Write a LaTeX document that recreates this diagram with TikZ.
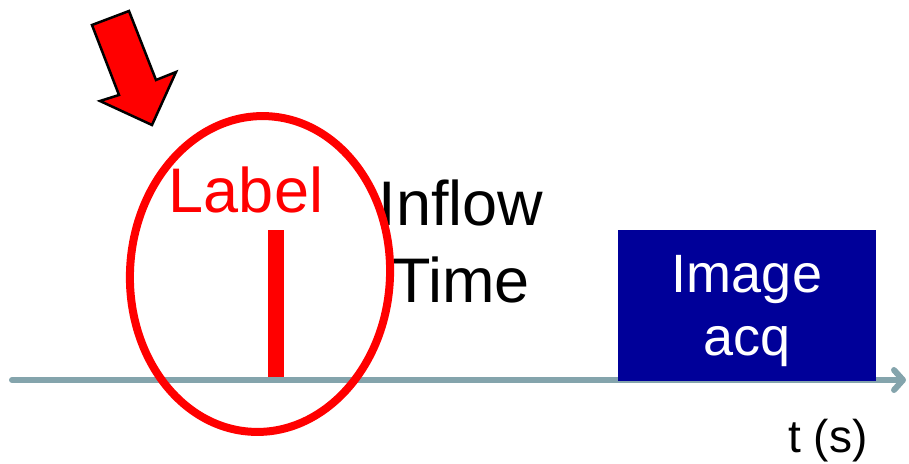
\documentclass[tikz,border=0pt]{standalone}
\usepackage{fontspec}
\setmainfont{Liberation Sans}
\usetikzlibrary{arrows.meta}
\definecolor{axisgray}{RGB}{132,164,172}
\definecolor{acqblue}{RGB}{0,0,153}
\definecolor{pptred}{RGB}{255,0,0}
\tikzset{
  txt/.style={inner sep=0pt, anchor=base, align=center},
  axisline/.style={draw=axisgray, line width=6pt, line cap=round,
    -{Straight Barb[length=9pt,width=20pt,line cap=round,round]}},
}
\begin{document}
\begin{tikzpicture}[x=1pt,y=-1pt]
\useasboundingbox (0,0) rectangle (909,463);
% red label bar
\fill[pptred] (268,230) rectangle (284,378);
% time axis
\coordinate (axstart) at (12,380);
\coordinate (axend) at (906,380);
\draw[axisline] (axstart) -- (axend);
% image acquisition block
\node[fill=acqblue, minimum width=258pt, minimum height=151pt, inner sep=0pt, anchor=north west] (acq) at (618,230) {};
\node[txt, text=white, font=\fontsize{54}{63}\selectfont] (acqtext) at (747,355) {Image\\acq};
% texts
\node[txt, text=pptred, font=\fontsize{63}{70}\selectfont] (label) at (246,212) {Label};
\node[txt, font=\fontsize{63}{77}\selectfont] (inflow) at (461,302) {Inflow\\Time};
\node[txt, font=\fontsize{46}{50}\selectfont] (ts) at (828,452) {t (s)};
% ellipse
\draw[pptred, line width=8pt] (260,274) ellipse [x radius=130, y radius=158, rotate=-3];
% red pointer arrow
\draw[fill=pptred, draw=black, line width=2.5pt, line join=miter]
  (92,25) -- (129,11) -- (156,80) -- (176,72) -- (152,125) -- (100,101) -- (119,95) -- cycle;
\end{tikzpicture}
\end{document}
